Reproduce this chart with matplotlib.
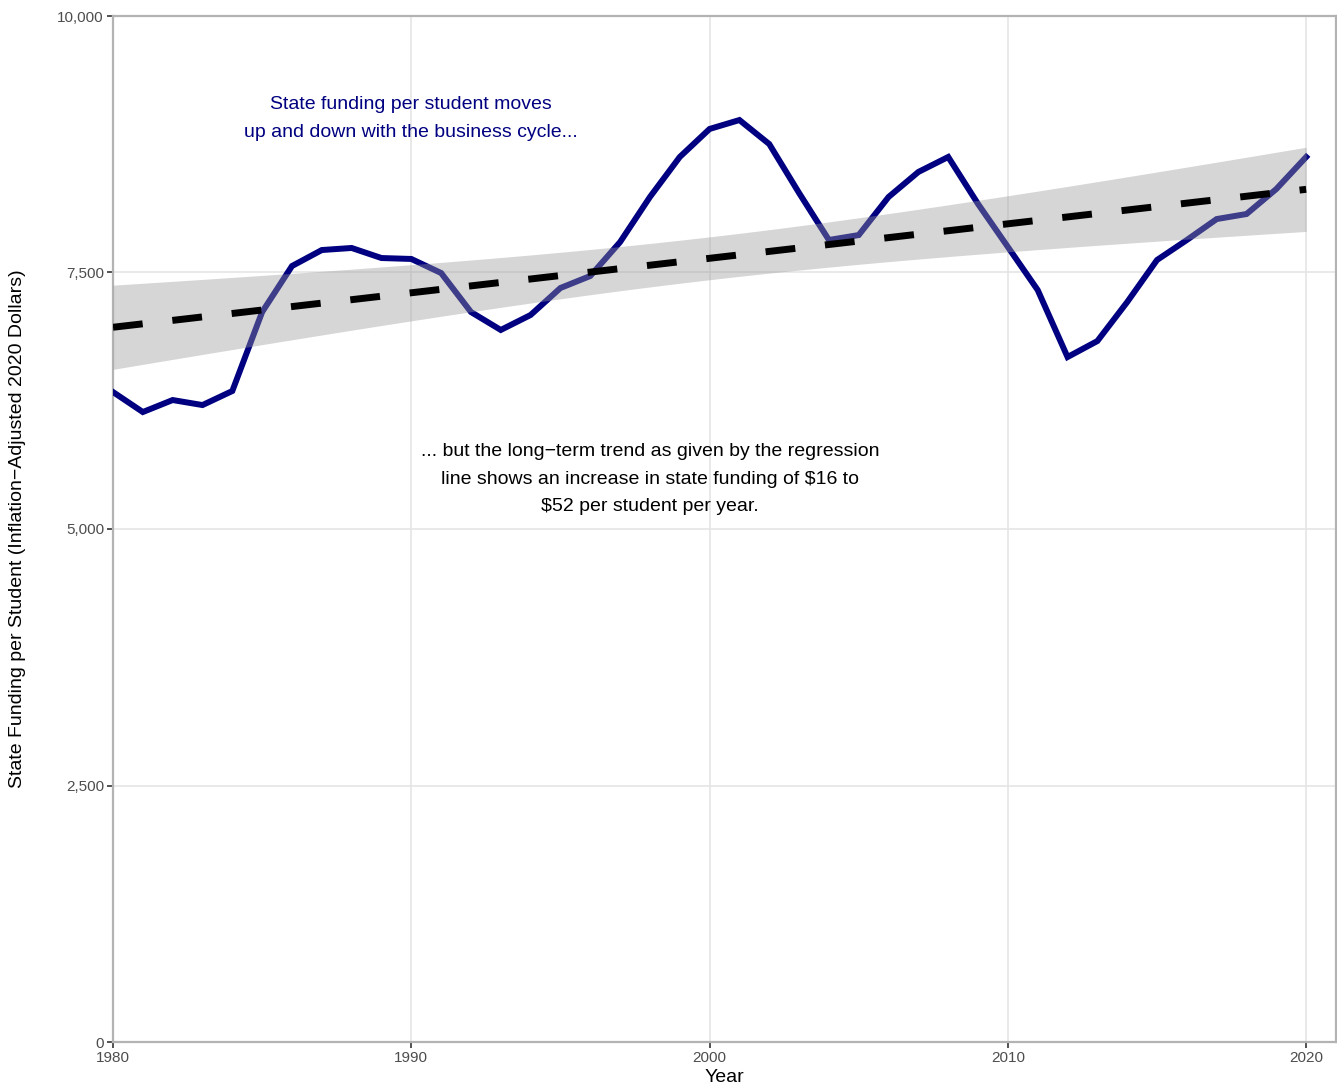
import numpy as np
import matplotlib.pyplot as plt
from matplotlib.ticker import FuncFormatter

plt.rcParams['font.family'] = ['Liberation Sans', 'DejaVu Sans']

years = np.arange(1980, 2021)
funding = [6335, 6140, 6257, 6208, 6345, 7115, 7563, 7719, 7739, 7641,
           7632, 7495, 7115, 6940, 7086, 7349, 7466, 7797, 8236, 8626,
           8899, 8986, 8752, 8275, 7817, 7865, 8236, 8480, 8626, 8168,
           7749, 7329, 6676, 6832, 7212, 7622, 7817, 8021, 8070, 8314,
           8626]

x_ticks = [1980, 1990, 2000, 2010, 2020]
y_ticks = [0, 2500, 5000, 7500, 10000]

note_cycle = "State funding per student moves\nup and down with the business cycle..."
note_trend = ("... but the long\u2212term trend as given by the regression\n"
              "line shows an increase in state funding of $16 to\n"
              "$52 per student per year.")

# ordinary least squares fit with a 95% confidence band
x = years.astype(float)
y = np.array(funding, dtype=float)
n = len(x)
slope, intercept = np.polyfit(x, y, 1)
resid = y - (intercept + slope * x)
s = np.sqrt(np.sum(resid ** 2) / (n - 2))
sxx = np.sum((x - x.mean()) ** 2)
t_crit = 2.0227  # t(0.975, df=39)
xs = np.linspace(x.min(), x.max(), 80)
fit = intercept + slope * xs
se = s * np.sqrt(1 / n + (xs - x.mean()) ** 2 / sxx)
lower = fit - t_crit * se
upper = fit + t_crit * se

fig = plt.figure(figsize=(13.37, 10.88), dpi=100)
ax = fig.add_axes([113 / 1337, 46 / 1088, 1223 / 1337, 1026 / 1088])

ax.plot(years, funding, color='navy', lw=4.3, solid_joinstyle='miter', zorder=3)
ax.fill_between(xs, lower, upper, color='#999999', alpha=0.4, lw=0, zorder=4)
ax.plot(xs, fit, color='black', lw=5, dashes=(4.3, 4.3), zorder=5)

ax.text(1990, 9001, note_cycle, color='navy', fontsize=14, ha='center', va='center',
        linespacing=1.8, zorder=6)
ax.text(1998, 5487, note_trend, color='black', fontsize=14, ha='center', va='center',
        linespacing=1.8, zorder=6)

ax.set_xlim(1980, 2021)
ax.set_ylim(0, 10000)
ax.set_xticks(x_ticks)
ax.set_yticks(y_ticks)
ax.yaxis.set_major_formatter(FuncFormatter(lambda v, p: f"{int(v):,}"))
ax.grid(True, color='#E5E5E5', lw=1.2)
ax.set_axisbelow(True)
for sp in ax.spines.values():
    sp.set_color('#B3B3B3')
    sp.set_linewidth(1.6)
ax.tick_params(length=4.5, width=1.2, color='#333333', labelcolor='#4D4D4D',
               labelsize=11, pad=2)

ax.set_xlabel("Year", fontsize=14, labelpad=3)
ax.set_ylabel("State Funding per Student (Inflation\u2212Adjusted 2020 Dollars)",
              fontsize=14)
ax.yaxis.set_label_coords(-0.0711, 0.5)

fig.savefig("out.png", dpi=100)
